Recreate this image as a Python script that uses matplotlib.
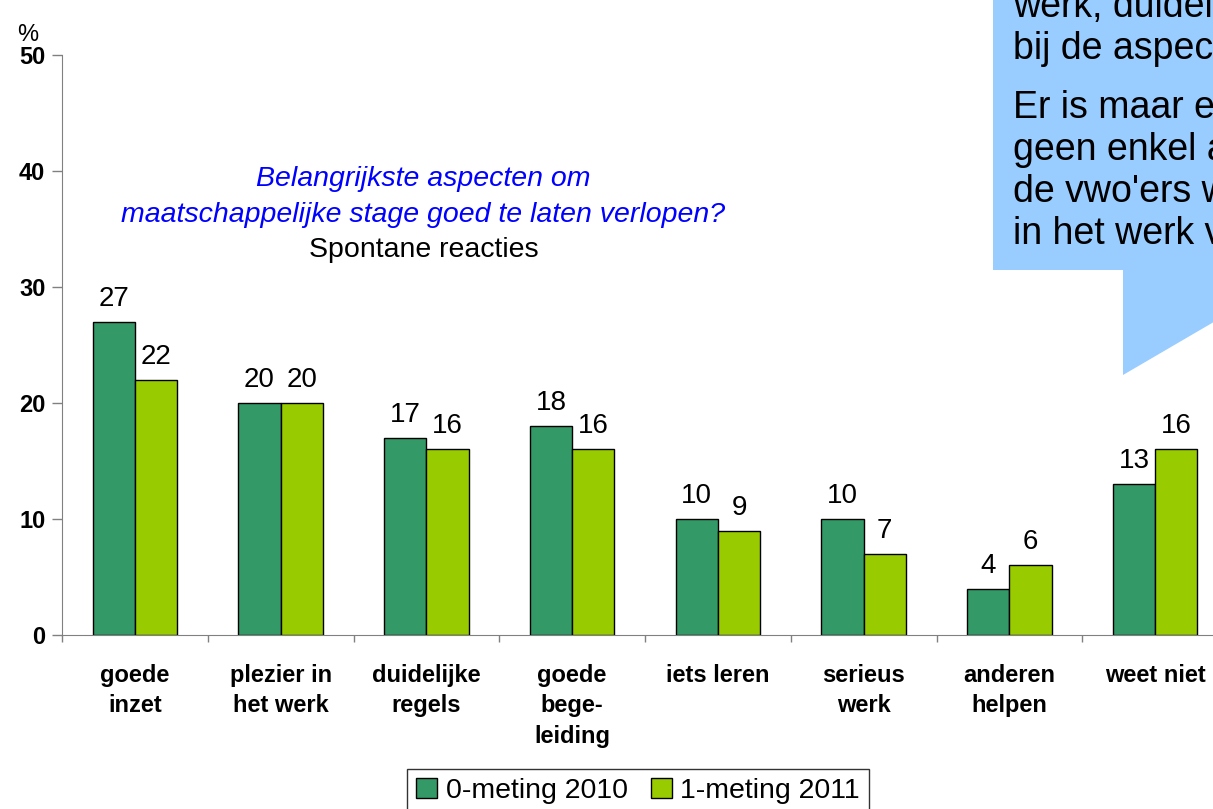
import numpy as np
import matplotlib.pyplot as plt
from matplotlib.patches import Polygon

plt.rcParams['font.family'] = ['Liberation Sans', 'DejaVu Sans']

categories = ["goede\ninzet", "plezier in\nhet werk", "duidelijke\nregels", "goede\nbege-\nleiding",
              "iets leren", "serieus\nwerk", "anderen\nhelpen", "weet niet"]
meting_2010 = [27, 20, 17, 18, 10, 10, 4, 13]
meting_2011 = [22, 20, 16, 16, 9, 7, 6, 16]
series_names = ["0-meting 2010", "1-meting 2011"]
yticks = [0, 10, 20, 30, 40, 50]

W, H = 1213, 809
fig = plt.figure(figsize=(W / 100, H / 100), dpi=100)


def fx(px):
    return px / W


def fy(py):
    return 1 - py / H


# axes run past the right edge of the picture, as in the reference
ax = fig.add_axes([fx(62), fy(635), fx(1228) - fx(62), fy(55) - fy(635)])

x = np.arange(len(categories))
w = 0.29
b1 = ax.bar(x - w / 2, meting_2010, w, color="#339966", edgecolor="black", linewidth=1, label=series_names[0])
b2 = ax.bar(x + w / 2, meting_2011, w, color="#99cc00", edgecolor="black", linewidth=1, label=series_names[1])

for bars in (b1, b2):
    for r in bars:
        ax.annotate(f"{r.get_height():.0f}", (r.get_x() + r.get_width() / 2, r.get_height()),
                    xytext=(0, 11.5), textcoords="offset points", ha="center", va="baseline", fontsize=20)

ax.set_xlim(-0.5, len(categories) - 0.5)
ax.set_ylim(0, 50)
ax.set_yticks(yticks)
ax.set_yticklabels([str(v) for v in yticks], fontsize=17, fontweight="bold")
ax.tick_params(axis="y", direction="out", length=7, width=1, color="#808080", pad=5)

ax.set_xticks(x)
ax.set_xticklabels(categories, fontsize=17, fontweight="bold", linespacing=1.4, va="top")
ax.set_xticks(np.arange(len(categories) + 1) - 0.5, minor=True)
ax.tick_params(axis="x", which="major", length=0, pad=21)
ax.tick_params(axis="x", which="minor", direction="out", length=5, width=1, color="#808080")

for s in ("top", "right"):
    ax.spines[s].set_visible(False)
for s in ("left", "bottom"):
    ax.spines[s].set_color("#808080")

fig.text(fx(28), fy(35), "%", fontsize=17, ha="center", va="center")

# chart title inside the plot
fig.text(fx(423), fy(186), "Belangrijkste aspecten om", fontsize=20.5, style="italic",
         color="#0000ff", ha="center", va="baseline")
fig.text(fx(423), fy(222), "maatschappelijke stage goed te laten verlopen?", fontsize=20.5,
         style="italic", color="#0000ff", ha="center", va="baseline")
fig.text(fx(424), fy(257), "Spontane reacties", fontsize=20.5, ha="center", va="baseline")

# speech bubble in the top right corner, cut off by the picture edge
bubble = [(993, -10), (1260, -10), (1260, 295), (1123, 375), (1123, 270), (993, 270)]
fig.patches.append(Polygon([(fx(a), fy(b)) for a, b in bubble], closed=True,
                           facecolor="#99ccff", edgecolor="none", transform=fig.transFigure, zorder=0))
bubble_lines = [("werk, duidelijke regels", 17), ("bij de aspecten", 59),
                ("Er is maar een", 118), ("geen enkel aspect", 160),
                ("de vwo'ers wel", 202), ("in het werk vinden", 244)]
for txt, yb in bubble_lines:
    fig.text(fx(1013), fy(yb), txt, fontsize=27, ha="left", va="baseline")

leg = fig.legend(loc="upper center", bbox_to_anchor=(fx(638), fy(769)), ncol=2, fontsize=20.5,
                 frameon=True, fancybox=False, edgecolor="black", handlelength=0.75, handleheight=0.75,
                 handletextpad=0.3, columnspacing=0.8, borderpad=0.3, borderaxespad=0)
leg.get_frame().set_linewidth(1)

fig.savefig("out.png", dpi=100)
